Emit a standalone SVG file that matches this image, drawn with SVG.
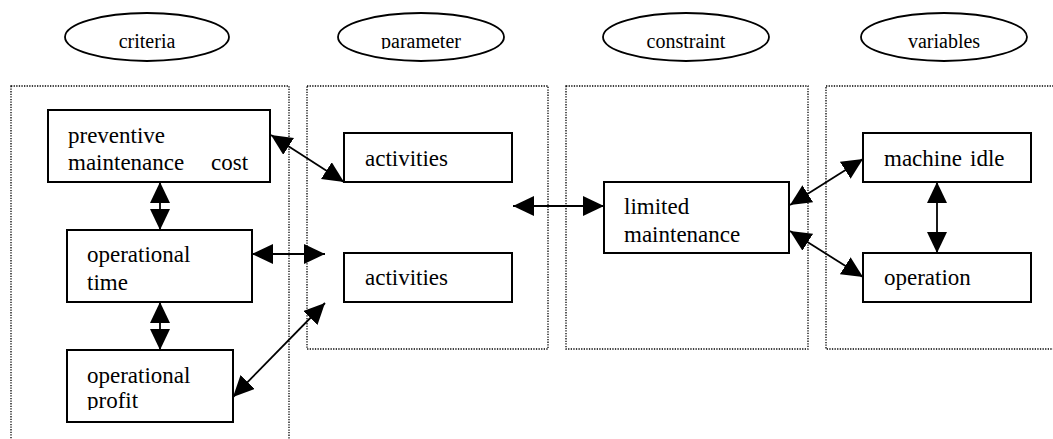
<svg xmlns="http://www.w3.org/2000/svg" width="1053" height="439" viewBox="0 0 1053 439">
<defs>
<marker id="ah" markerUnits="userSpaceOnUse" markerWidth="22" markerHeight="21" refX="21" refY="10" orient="auto-start-reverse" viewBox="0 0 22 21">
<path d="M0,0 L21,10 L0,20 z" fill="#000"/>
</marker>
<clipPath id="clipParam"><rect x="330" y="10" width="180" height="39"/></clipPath>
<clipPath id="clipProfit"><rect x="67" y="350" width="166" height="60"/></clipPath>
</defs>
<g id="frames" fill="none" stroke="#000" stroke-width="1.3" stroke-dasharray="1.3 1.3">
<rect x="11" y="86" width="278" height="370"/>
<rect x="307" y="86" width="241" height="263"/>
<rect x="566" y="86" width="242" height="263"/>
<rect x="826" y="86" width="240" height="263"/>
</g>
<g id="labels" font-family="Liberation Serif" font-size="20" text-anchor="middle">
<g id="criteria">
<ellipse cx="147" cy="37" rx="82" ry="24" fill="#fff" stroke="#000" stroke-width="1.8"/>
<text x="147" y="48" font-family="Liberation Serif">criteria</text>
</g>
<g id="parameter">
<ellipse cx="421" cy="37" rx="83" ry="24" fill="#fff" stroke="#000" stroke-width="1.8"/>
<text x="421" y="48" font-family="Liberation Serif" clip-path="url(#clipParam)">parameter</text>
</g>
<g id="constraint">
<ellipse cx="686" cy="37" rx="83" ry="24" fill="#fff" stroke="#000" stroke-width="1.8"/>
<text x="686" y="48" font-family="Liberation Serif">constraint</text>
</g>
<g id="variables">
<ellipse cx="944" cy="37" rx="83" ry="24" fill="#fff" stroke="#000" stroke-width="1.8"/>
<text x="944" y="48" font-family="Liberation Serif">variables</text>
</g>
</g>
<g id="nodes" font-family="Liberation Serif" font-size="23">
<g id="pmcost">
<rect x="48" y="110" width="222" height="72" fill="#fff" stroke="#000" stroke-width="2"/>
<text x="68" y="143" font-family="Liberation Serif">preventive</text>
<text x="68" y="170" font-family="Liberation Serif">maintenance<tspan x="211">cost</tspan></text>
</g>
<g id="optime">
<rect x="67" y="230" width="185" height="72" fill="#fff" stroke="#000" stroke-width="2"/>
<text x="87" y="262" font-family="Liberation Serif">operational</text>
<text x="87" y="290" font-family="Liberation Serif">time</text>
</g>
<g id="opprofit">
<rect x="67" y="350" width="166" height="72" fill="#fff" stroke="#000" stroke-width="2"/>
<text x="87" y="383" font-family="Liberation Serif">operational</text>
<text x="87" y="408" font-family="Liberation Serif" clip-path="url(#clipProfit)">profit</text>
</g>
<g id="activities1">
<rect x="344" y="133" width="168" height="49" fill="#fff" stroke="#000" stroke-width="2"/>
<text x="365" y="166" font-family="Liberation Serif">activities</text>
</g>
<g id="activities2">
<rect x="344" y="253" width="168" height="49" fill="#fff" stroke="#000" stroke-width="2"/>
<text x="365" y="285" font-family="Liberation Serif">activities</text>
</g>
<g id="limited">
<rect x="604" y="182" width="185" height="71" fill="#fff" stroke="#000" stroke-width="2"/>
<text x="624" y="214" font-family="Liberation Serif">limited</text>
<text x="624" y="242" font-family="Liberation Serif">maintenance</text>
</g>
<g id="machineidle">
<rect x="863" y="133" width="168" height="49" fill="#fff" stroke="#000" stroke-width="2"/>
<text x="884" y="166" font-family="Liberation Serif">machine<tspan x="970">idle</tspan></text>
</g>
<g id="operation">
<rect x="863" y="253" width="168" height="49" fill="#fff" stroke="#000" stroke-width="2"/>
<text x="884" y="285" font-family="Liberation Serif">operation</text>
</g>
</g>
<g id="connectors" stroke="#000" stroke-width="1.8" fill="none" marker-start="url(#ah)" marker-end="url(#ah)">
<line x1="271" y1="135" x2="344" y2="182"/>
<line x1="160" y1="182" x2="160" y2="230"/>
<line x1="252" y1="254" x2="325" y2="254"/>
<line x1="160" y1="302" x2="160" y2="350"/>
<line x1="233" y1="397" x2="325" y2="303"/>
<line x1="513" y1="206" x2="604" y2="206"/>
<line x1="790" y1="205" x2="863" y2="159"/>
<line x1="790" y1="231" x2="863" y2="277"/>
<line x1="937" y1="182" x2="937" y2="253"/>
</g>
</svg>
